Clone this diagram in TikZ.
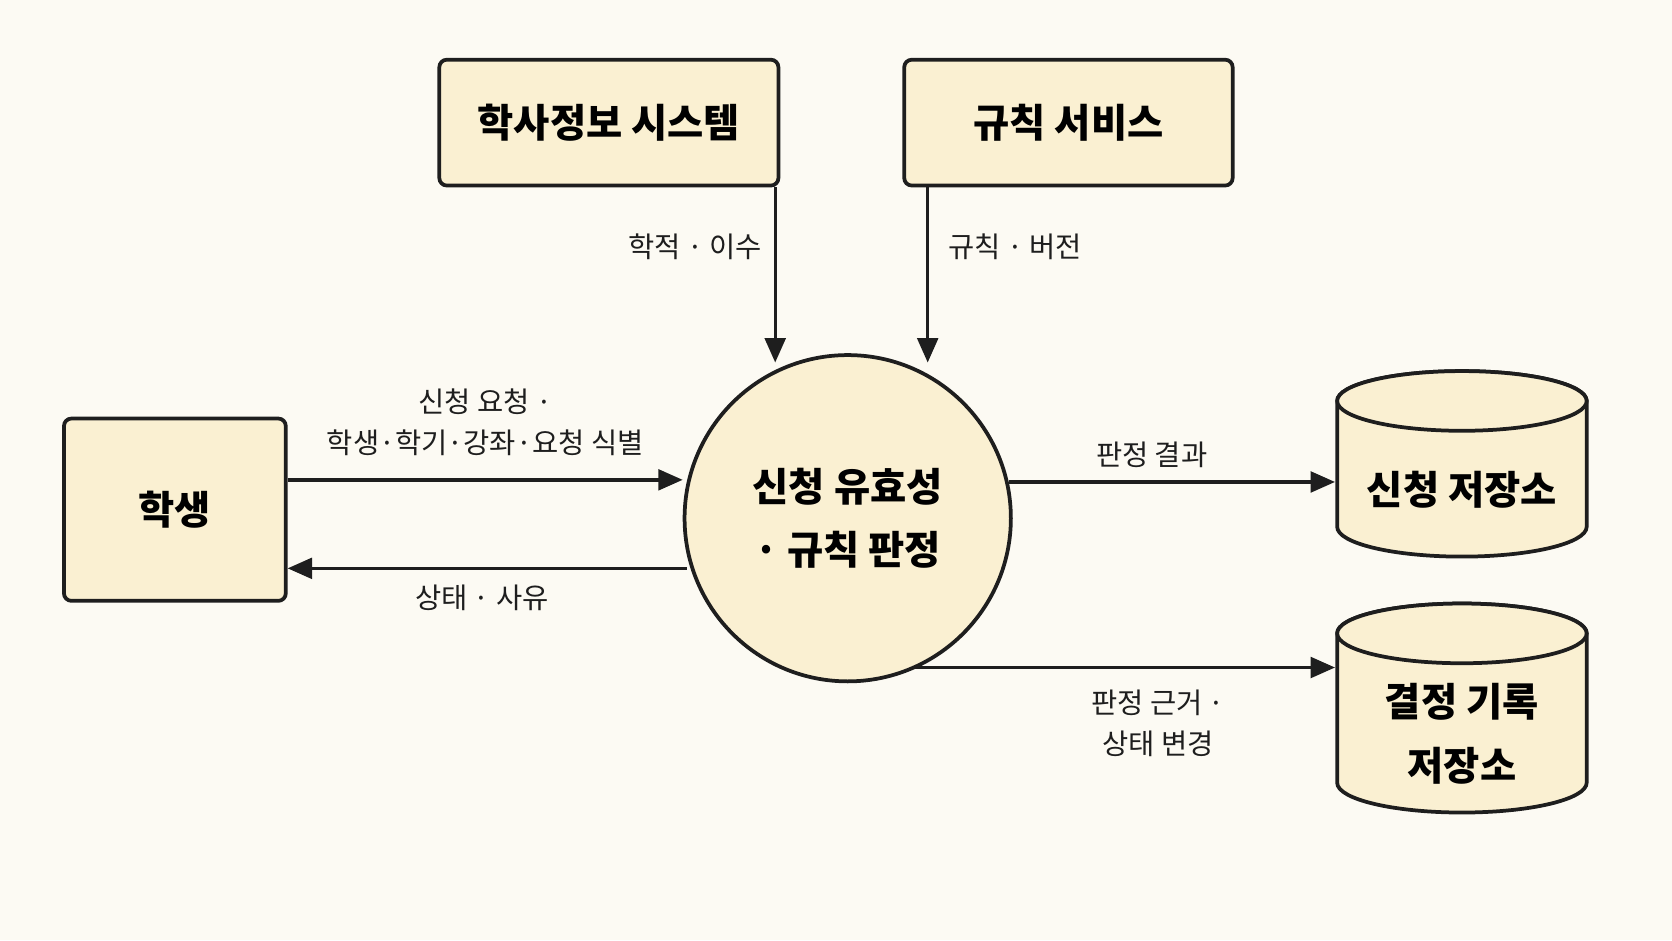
\documentclass[tikz,border=0pt]{standalone}
\usepackage{fontspec}
\setmainfont{Noto Sans CJK KR}
\usetikzlibrary{arrows.meta}
\definecolor{bg}{HTML}{FCFAF3}
\definecolor{fillc}{HTML}{FAF0D2}
\definecolor{ink}{HTML}{1E1E1E}
\begin{document}
\begin{tikzpicture}[x=0.01cm,y=-0.01cm,
  box/.style={draw=ink,fill=fillc,line width=1pt,rounded corners=2pt,font=\bfseries\fontsize{10.5}{14}\selectfont,align=center,inner sep=0pt},
  lab/.style={font=\fontsize{7.6}{11}\selectfont,text=ink,align=center},
  arr/.style={draw=ink,line width=0.9pt,-{Triangle[length=6.5pt,width=5.5pt]}},
  cyl/.style={draw=ink,fill=fillc,line width=1pt}]
\fill[bg] (0,0) rectangle (1568,882);
\useasboundingbox (0,0) rectangle (1568,882);
\node[box,minimum width=318*0.01cm,minimum height=118*0.01cm] (acad) at (571,115) {학사정보 시스템};
\node[box,minimum width=308*0.01cm,minimum height=118*0.01cm] (rule) at (1002,115) {규칙 서비스};
\node[box,minimum width=208*0.01cm,minimum height=171*0.01cm] (stu) at (164,478) {학생};
\node[circle,draw=ink,fill=fillc,line width=1pt,minimum size=306*0.01cm,font=\bfseries\fontsize{10.5}{17}\selectfont,align=center] (proc) at (795,486) {신청 유효성\\· 규칙 판정};
% cylinders
\foreach \yt/\yb in {376/494,594/734}{
  \path[cyl] (1254,\yt) -- (1254,\yb) arc[start angle=180,end angle=0,x radius=117,y radius=28] -- (1488,\yt) arc[start angle=0,end angle=-180,x radius=117,y radius=28] -- cycle;
  \draw[cyl] (1371,\yt) ellipse[x radius=117,y radius=28];
}
\node[font=\bfseries\fontsize{10.5}{14}\selectfont] (s1) at (1371,459) {신청 저장소};
\node[font=\bfseries\fontsize{10.5}{17}\selectfont,align=center] (s2) at (1371,688) {결정 기록\\저장소};
\coordinate (c1in) at (1252,452);
\coordinate (c2in) at (1252,626);
% arrows
\draw[arr] (acad.south -| 727,0) -- (727,340);
\draw[arr] (rule.south -| 870,0) -- (870,340);
\draw[arr] (stu.east |- 0,450) -- (proc.west |- 0,450);
\draw[arr] (644,533) -- (stu.east |- 0,533);
\draw[arr] (946,452) -- (c1in);
\draw[arr] (858,626) -- (c2in);
% labels
\node[lab] at (652,231) {학적 · 이수};
\node[lab] at (952,231) {규칙 · 버전};
\node[lab] at (455,396) {신청 요청 ·\\학생·학기·강좌·요청 식별};
\node[lab] at (452,561) {상태 · 사유};
\node[lab] at (1080,427) {판정 결과};
\node[lab] at (1086,678) {판정 근거 ·\\상태 변경};
\end{tikzpicture}
\end{document}
